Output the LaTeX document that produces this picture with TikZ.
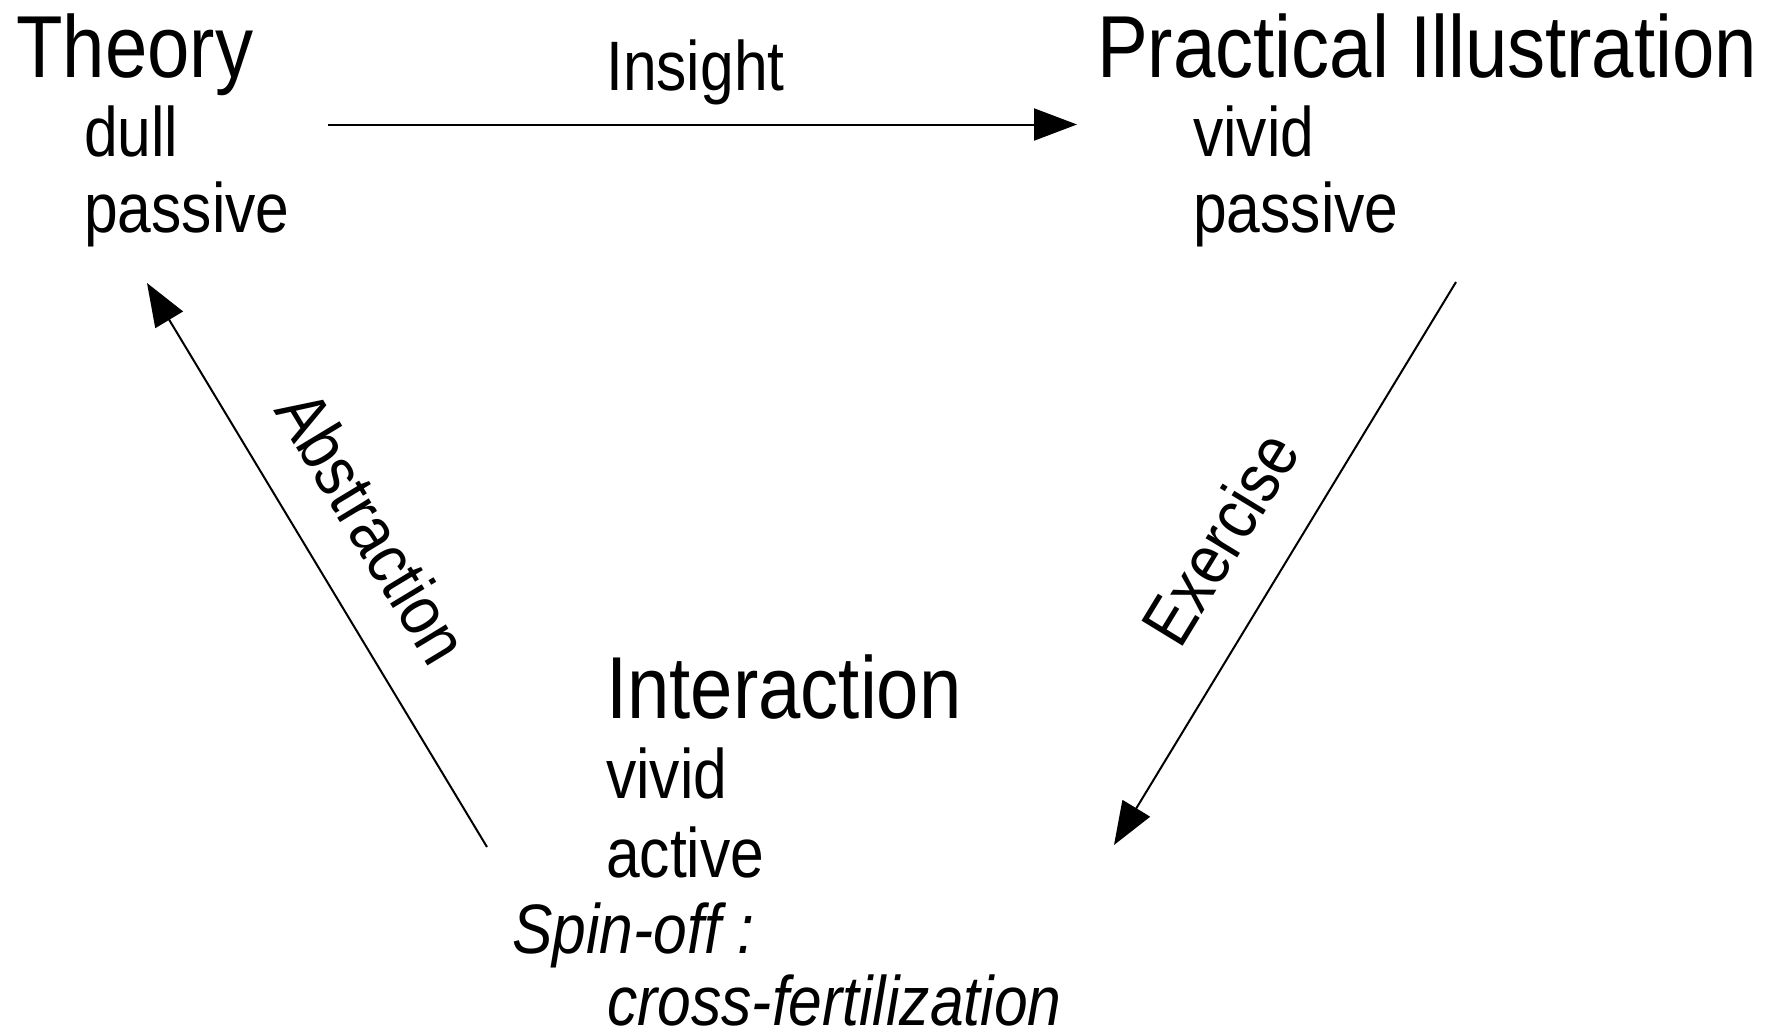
\documentclass[tikz,border=0pt]{standalone}
\usepackage{fontspec}
\setmainfont{Liberation Sans}[FakeStretch=0.865]
\usetikzlibrary{arrows.meta}
\begin{document}
\begin{tikzpicture}[x=1pt,y=1pt,
  big/.style={font=\fontsize{88}{100}\selectfont, inner sep=0pt, anchor=base west},
  small/.style={font=\fontsize{70}{80}\selectfont, inner sep=0pt, anchor=base west},
  smallit/.style={font=\fontsize{70}{80}\selectfont\itshape, inner sep=0pt, anchor=base west},
  lbl/.style={font=\fontsize{70}{80}\selectfont, inner sep=0pt, anchor=center},
  conn/.style={line width=2pt, -{Triangle[length=43pt,width=32pt]}}]
\useasboundingbox (0,0) rectangle (1765,-1034);
% Theory block
\node[big]   (theory)   at (16,-77)  {Theory};
\node[small] (dull)     at (84,-156) {dull};
\node[small] (passiveA) at (84,-232) {passive};
% Practical block
\node[big]   (prac)     at (1097,-77)  {Practical Illustration};
\node[small] (vividA)   at (1193,-156) {vivid};
\node[small] (passiveB) at (1193,-232) {passive};
% Interaction block
\node[big]     (inter)  at (606,-718)  {Interaction};
\node[small]   (vividB) at (606,-798)  {vivid};
\node[small]   (active) at (606,-877)  {active};
\node[smallit] (spin)   at (512,-953)  {Spin-off :};
\node[smallit] (cross)  at (607,-1025) {cross-fertilization};
% connector ends
\coordinate (insS) at (328,-124.5);
\coordinate (insE) at (1077,-124.5);
\coordinate (exS)  at (1456,-282);
\coordinate (exE)  at (1114,-845);
\coordinate (abS)  at (487,-847);
\coordinate (abE)  at (147,-283);
% connectors
\draw[conn] (insS) -- (insE);
\draw[conn] (exS) -- (exE);
\draw[conn] (abS) -- (abE);
% labels
\node[small] (insight) at (606,-90.5) {Insight};
\node[lbl, rotate=58.6]  (exer) at (1220,-538) {Exercise};
\node[lbl, rotate=-58.8] (abst) at (373,-527)  {Abstraction};
\end{tikzpicture}
\end{document}
